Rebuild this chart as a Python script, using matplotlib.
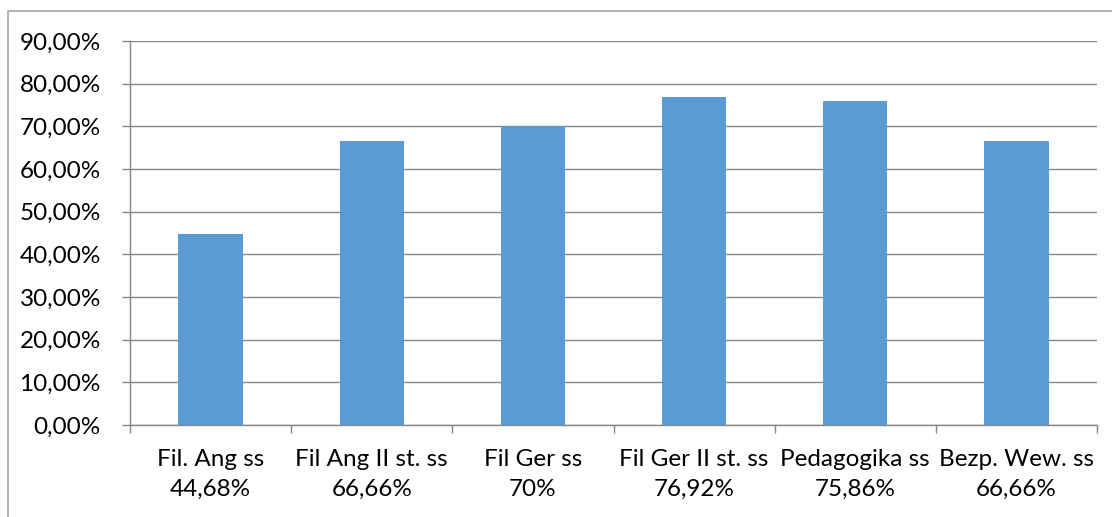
import matplotlib.pyplot as plt
from matplotlib.patches import Rectangle
from matplotlib.ticker import FuncFormatter, MultipleLocator

categories = ["Fil. Ang ss", "Fil Ang II st. ss", "Fil Ger ss",
              "Fil Ger II st. ss", "Pedagogika ss", "Bezp. Wew. ss"]
value_labels = ["44,68%", "66,66%", "70%", "76,92%", "75,86%", "66,66%"]
values = [0.4468, 0.6666, 0.70, 0.7692, 0.7586, 0.6666]

plt.rcParams["font.family"] = ["Lato", "DejaVu Sans"]

fig = plt.figure(figsize=(11.12, 5.17), dpi=100)
W, H = 1112, 517
ax = fig.add_axes([130 / W, 1 - 425 / H, (1097 - 130) / W, (425 - 41) / H])

# outer chart border
fig.patches.append(Rectangle((8 / W, -0.05), 1.2, 1 - 11 / H + 0.05,
                             transform=fig.transFigure, fill=False,
                             edgecolor="#a6a6a6", linewidth=1.2))

x = list(range(len(categories)))
ax.bar(x, values, width=0.4, color="#5b9bd5", zorder=3)

ax.set_xlim(-0.5, len(categories) - 0.5)
ax.set_ylim(0, 0.9)
ax.yaxis.set_major_locator(MultipleLocator(0.1))
ax.yaxis.set_major_formatter(FuncFormatter(lambda v, p: ("%.2f%%" % (v * 100)).replace(".", ",")))
ax.grid(axis="y", color="#868686", linewidth=1, zorder=0)

ax.set_xticks([i - 0.5 for i in range(len(categories) + 1)])
ax.set_xticklabels([])
ax.set_xticks(x, minor=True)
ax.set_xticklabels([c + "\n" + v for c, v in zip(categories, value_labels)], minor=True)
ax.tick_params(axis="x", which="minor", length=0, pad=17, labelsize=17.5)
ax.tick_params(axis="x", which="major", length=6, color="#868686", width=1)
ax.tick_params(axis="y", length=6, color="#868686", width=1, labelsize=17.5, pad=15)
for lbl in ax.get_xticklabels(minor=True):
    lbl.set_linespacing(1.55)

for s in ["top", "right"]:
    ax.spines[s].set_visible(False)
for s in ["left", "bottom"]:
    ax.spines[s].set_color("#868686")
    ax.spines[s].set_linewidth(1)

fig.savefig("out.png", dpi=100)
